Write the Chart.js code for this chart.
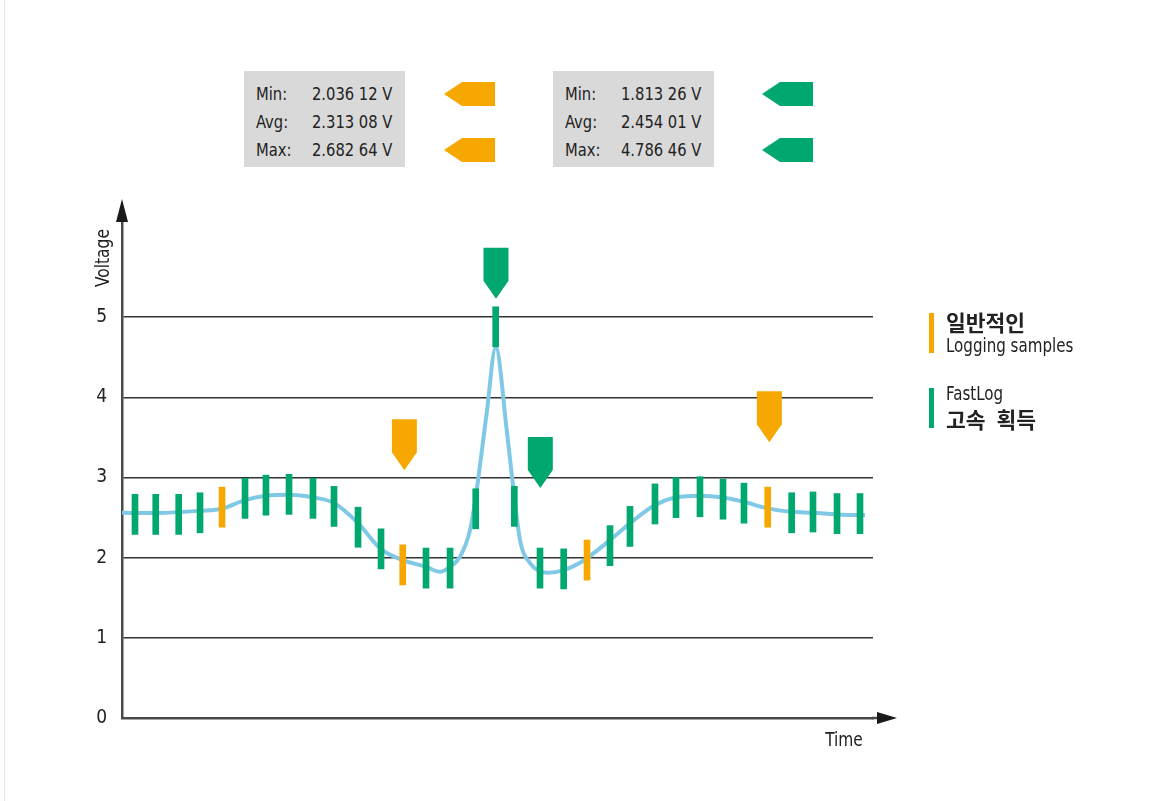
<!DOCTYPE html>
<html>
<head>
<meta charset="utf-8">
<title>FastLog</title>
<script src="https://cdn.jsdelivr.net/npm/chart.js@4.4.1/dist/chart.umd.min.js"></script>
<style>
body { margin: 0; background: #fff; }
#wrap { position: relative; width: 1171px; height: 801px; overflow: hidden;
        font-family: "Liberation Sans Narrow", "DejaVu Sans Condensed", sans-serif; color: #222; }
#edge { position: absolute; left: 4px; top: 0; width: 1px; height: 801px; background: #dfe4e8; }
canvas { position: absolute; left: 0; top: 0; }
.stats { position: absolute; top: 71px; width: 161px; height: 96px; background: #d9d9d9; font-size: 18px; }
.stats .row { position: absolute; left: 0; height: 28px; line-height: 28px; white-space: nowrap; }
.stats .lab, .stats .val { position: absolute; display: inline-block; transform: scaleX(0.91); transform-origin: left center; }
.stats .lab { left: 12px; }
.stats .val { left: 68px; }
.tag { position: absolute; width: 51px; height: 24px;
       clip-path: polygon(0 50%, 18px 0, 100% 0, 100% 100%, 18px 100%); }
.lbar { position: absolute; left: 929px; width: 5px; height: 40px; }
.ltxt { position: absolute; left: 946px; height: 24px; line-height: 24px; white-space: nowrap; }
.ko { font-family: "Noto Sans CJK KR", sans-serif; font-weight: 700; font-size: 21.5px; }
.en { font-size: 19.5px; transform: scaleX(0.86); transform-origin: left center; }
</style>
</head>
<body>
<div id="wrap">
  <div id="edge"></div>
  <canvas id="fastChart" width="1171" height="801"></canvas>

  <div class="stats" style="left:244px" id="statsLog"></div>
  <div class="stats" style="left:553px" id="statsFast"></div>

  <div class="tag" style="left:444px; top:82px; background:#f6a800"></div>
  <div class="tag" style="left:444px; top:138px; background:#f6a800"></div>
  <div class="tag" style="left:762px; top:82px; background:#00a870"></div>
  <div class="tag" style="left:762px; top:138px; background:#00a870"></div>

  <div class="lbar" style="top:313px; background:#f6a800"></div>
  <div class="ltxt ko" style="top:310px">일반적인</div>
  <div class="ltxt en" style="top:334px">Logging samples</div>
  <div class="lbar" style="top:388px; background:#00a870"></div>
  <div class="ltxt en" style="top:382px">FastLog</div>
  <div class="ltxt ko" style="top:407px; word-spacing:6px">고속 획득</div>
</div>

<script>
// FastLog samples (green)
const fastTimes = [1.73, 4.49, 7.55, 10.39, 16.38, 19.17, 22.24, 25.43, 28.23, 31.43, 34.49,
                   40.48, 43.68, 47.10, 49.76, 52.24, 55.66, 58.81, 64.98, 67.64, 70.97,
                   73.77, 76.96, 80.03, 82.82, 89.17, 92.01, 95.21, 98.27];
const fastVolts = [2.54, 2.54, 2.54, 2.56, 2.74, 2.78, 2.79, 2.74, 2.64, 2.38, 2.11,
                   1.87, 1.87, 2.61, 4.88, 2.64, 1.87, 1.86, 2.15, 2.39, 2.67,
                   2.75, 2.76, 2.73, 2.68, 2.56, 2.57, 2.55, 2.55];

// normal logging samples (orange)
const logTimes = [13.32, 37.38, 61.92, 85.98];
const logVolts = [2.63, 1.91, 1.97, 2.63];

// bar half length in volts
const sampleSpan = 0.25;

// real signal (blue curve)
const curveTimes = [0, 3.73, 10.39, 13.32, 16.38, 19.17, 22.24, 25.43, 28.23, 31.43, 34.49,
                    37.38, 40.48, 42.34, 43.68, 45.01, 46.34, 47.10, 48.56, 49.76, 51.23,
                    52.24, 53.0, 54.33, 56.72, 58.81, 60.99, 64.98, 67.64, 70.97, 73.77,
                    76.96, 80.03, 82.82, 85.98, 89.17, 92.01, 95.21, 98.94];
const curveVolts = [2.56, 2.556, 2.585, 2.61, 2.718, 2.772, 2.784, 2.752, 2.681, 2.431, 2.107,
                    1.97, 1.887, 1.824, 1.887, 2.011, 2.344, 2.759, 3.803, 4.622, 3.591,
                    2.759, 2.219, 1.933, 1.812, 1.845, 1.936, 2.219, 2.428, 2.656, 2.752,
                    2.772, 2.752, 2.697, 2.615, 2.572, 2.56, 2.54, 2.531];

const yTicks = [0, 1, 2, 3, 4, 5];

// min / max pointer markers: time, tip voltage, which series
const markerTimes = [37.6, 86.2, 49.8, 55.7];
const markerTips = [3.09, 3.44, 5.23, 2.87];
const markerSeries = ["log", "log", "fast", "fast"];

// statistics boxes
const statLabels = ["Min:", "Avg:", "Max:"];
const logStats = ["2.036 12 V", "2.313 08 V", "2.682 64 V"];
const fastStats = ["1.813 26 V", "2.454 01 V", "4.786 46 V"];

const GREEN = "#00a870";
const ORANGE = "#f6a800";
const BLUE = "#80c9e6";
const FONT = '"Liberation Sans Narrow", "DejaVu Sans Condensed", sans-serif';

function fillStats(id, values) {
    const box = document.getElementById(id);
    box.innerHTML = statLabels.map((lab, i) =>
        `<div class="row" style="top:${9 + i * 28}px"><span class="lab">${lab}</span><span class="val">${values[i]}</span></div>`
    ).join("");
}
fillStats("statsLog", logStats);
fillStats("statsFast", fastStats);

const decorPlugin = {
    id: "decor",
    afterDraw(chart) {
        const ctx = chart.ctx;
        const xs = chart.scales.x;
        const ys = chart.scales.y;
        const left = chart.chartArea.left;
        const top = chart.chartArea.top;
        const bottom = chart.chartArea.bottom;
        const right = chart.chartArea.right;

        ctx.save();
        // axis arrows
        ctx.fillStyle = "#1a1a1a";
        ctx.beginPath();
        ctx.moveTo(left, top - 22);
        ctx.lineTo(left + 6, top + 1);
        ctx.lineTo(left - 6, top + 1);
        ctx.closePath();
        ctx.fill();

        ctx.strokeStyle = "#4a4a4a";
        ctx.lineWidth = 2.5;
        ctx.beginPath();
        ctx.moveTo(right - 1, bottom);
        ctx.lineTo(right + 5, bottom);
        ctx.stroke();
        ctx.beginPath();
        ctx.moveTo(right + 4, bottom - 6);
        ctx.lineTo(right + 24, bottom);
        ctx.lineTo(right + 4, bottom + 6);
        ctx.closePath();
        ctx.fill();

        // axis titles (condensed a little to match the narrow original face)
        ctx.fillStyle = "#222";
        ctx.font = "19.5px " + FONT;
        ctx.textAlign = "center";
        ctx.textBaseline = "middle";
        ctx.translate(844, 741);
        ctx.scale(0.88, 1);
        ctx.fillText("Time", 0, 0);
        ctx.setTransform(1, 0, 0, 1, 0, 0);
        ctx.translate(104, 258);
        ctx.rotate(-Math.PI / 2);
        ctx.scale(0.88, 1);
        ctx.fillText("Voltage", 0, 0);
        ctx.setTransform(1, 0, 0, 1, 0, 0);

        // pointer markers
        markerTimes.forEach((t, i) => {
            const px = xs.getPixelForValue(t);
            const py = ys.getPixelForValue(markerTips[i]);
            const topY = py - 51;
            ctx.fillStyle = markerSeries[i] === "fast" ? GREEN : ORANGE;
            ctx.beginPath();
            ctx.moveTo(px - 12.5, topY);
            ctx.lineTo(px + 12.5, topY);
            ctx.lineTo(px + 12.5, topY + 33);
            ctx.lineTo(px, py);
            ctx.lineTo(px - 12.5, topY + 33);
            ctx.closePath();
            ctx.fill();
        });
        ctx.restore();
    }
};

const ctx = document.getElementById("fastChart").getContext("2d");

new Chart(ctx, {
    type: "bar",
    data: {
        datasets: [
            {
                type: "line",
                label: "Signal",
                data: curveTimes.map((t, i) => ({ x: t, y: curveVolts[i] })),
                borderColor: BLUE,
                borderWidth: 4,
                pointRadius: 0,
                cubicInterpolationMode: "monotone",
                fill: false,
                order: 3
            },
            {
                label: "FastLog",
                data: fastTimes.map((t, i) => ({ x: t, y: [fastVolts[i] - sampleSpan, fastVolts[i] + sampleSpan] })),
                backgroundColor: GREEN,
                barThickness: 6,
                grouped: false,
                order: 1
            },
            {
                label: "Logging samples",
                data: logTimes.map((t, i) => ({ x: t, y: [logVolts[i] - sampleSpan, logVolts[i] + sampleSpan] })),
                backgroundColor: ORANGE,
                barThickness: 6,
                grouped: false,
                order: 1
            }
        ]
    },
    options: {
        responsive: false,
        animation: false,
        layout: { padding: { left: 0, top: 221, right: 298, bottom: 0 } },
        plugins: {
            legend: { display: false },
            tooltip: { enabled: false }
        },
        scales: {
            x: {
                type: "linear",
                min: 0,
                max: 100,
                offset: false,
                ticks: { display: false },
                grid: { display: false },
                border: { display: true, color: "#4a4a4a", width: 2.5 },
                afterFit: s => { s.height = 83; }
            },
            y: {
                min: 0,
                max: 6.2,
                afterBuildTicks: s => { s.ticks = yTicks.map(v => ({ value: v })); },
                ticks: {
                    color: "#222",
                    padding: 15,
                    font: { family: FONT, size: 19 }
                },
                grid: {
                    drawTicks: false,
                    color: c => (c.tick && c.tick.value === 0) ? "rgba(0,0,0,0)" : "#333",
                    lineWidth: 1.6
                },
                border: { display: true, color: "#4a4a4a", width: 2.5 },
                afterFit: s => { s.width = 122; }
            }
        }
    },
    plugins: [decorPlugin]
});
</script>
</body>
</html>
